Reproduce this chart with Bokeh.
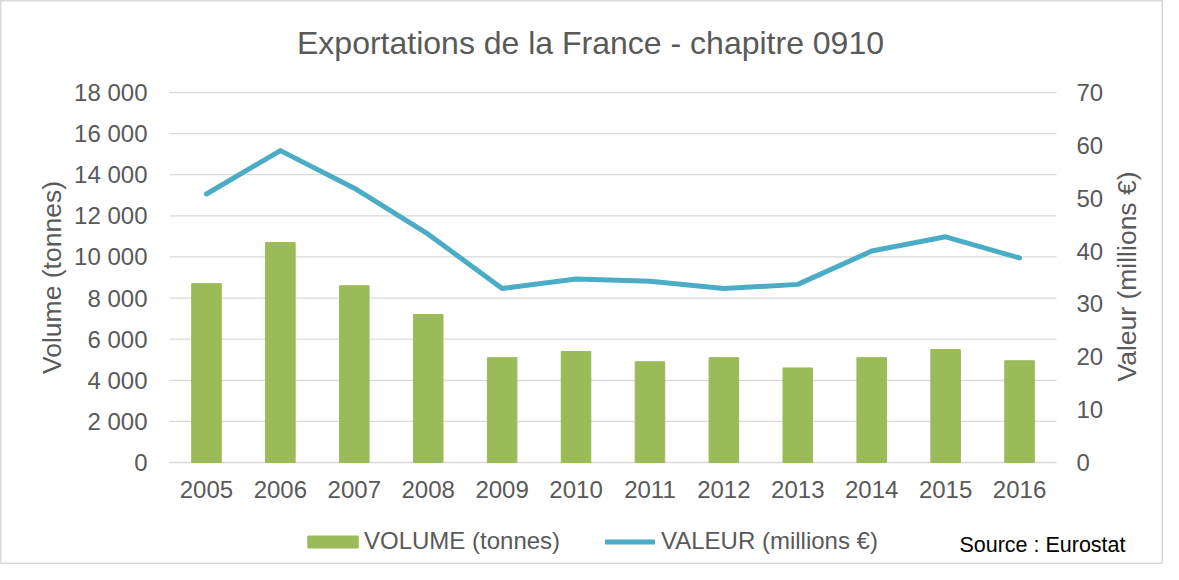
import math
from bokeh.plotting import figure
from bokeh.models import (ColumnDataSource, Range1d, LinearAxis, FixedTicker,
                          Legend, LegendItem, Label)
from bokeh.embed import file_html
from bokeh.resources import INLINE

# ---- data ----
years = ["2005", "2006", "2007", "2008", "2009", "2010",
         "2011", "2012", "2013", "2014", "2015", "2016"]
volume = [8700, 10700, 8600, 7200, 5100, 5400, 4900, 5100, 4600, 5100, 5500, 4950]
valeur = [50.8, 59.0, 51.9, 43.2, 32.9, 34.7, 34.3, 32.9, 33.7, 40.0, 42.7, 38.7]
vol_ticks = [0, 2000, 4000, 6000, 8000, 10000, 12000, 14000, 16000, 18000]
vol_tick_labels = ["0", "2 000", "4 000", "6 000", "8 000", "10 000",
                   "12 000", "14 000", "16 000", "18 000"]
val_ticks = [0, 10, 20, 30, 40, 50, 60, 70]

FONT = "Liberation Sans"
TXT = "#595959"
GRID = "#D9D9D9"
GREEN = "#9BBB59"
BLUE = "#4BACC6"

# ---- layout (pixels) ----
W, H = 1163, 564
PX_L, PX_R = 169, 1056      # plot band left / right
PX_T, PX_B = 92, 462        # plot band top / bottom
n = len(years)
vmax, rmax = vol_ticks[-1], val_ticks[-1]
cat_px = (PX_R - PX_L) / n


def xd(px):                  # pixel -> x data
    return (px - PX_L) / cat_px - 0.5


def yd(py):                  # pixel -> y data (left scale)
    return (PX_B - py) / (PX_B - PX_T) * vmax


idx = list(range(n))
src = ColumnDataSource(dict(i=idx, volume=volume, valeur=valeur))

p = figure(x_range=Range1d(xd(0), xd(W)), y_range=Range1d(yd(H), yd(0)),
           width=W, height=H, output_backend="svg", toolbar_location=None,
           title=None, min_border=0, min_border_left=0, min_border_right=0,
           min_border_top=0, min_border_bottom=0)
p.extra_y_ranges = {"val": Range1d(yd(H) * rmax / vmax, yd(0) * rmax / vmax)}
p.outline_line_color = GRID
p.outline_line_width = 2
p.background_fill_color = "white"
p.border_fill_color = "white"
p.xgrid.visible = False
p.ygrid.visible = False

# gridlines over the plot band
p.segment(x0=-0.5, x1=n - 0.5, y0=vol_ticks, y1=vol_ticks,
          line_color=GRID, line_width=1.3)

bars = p.vbar(x="i", top="volume", width=0.4, source=src,
              fill_color=GREEN, line_color=GREEN)
line = p.line(x="i", y="valeur", source=src, y_range_name="val",
              line_color=BLUE, line_width=5, line_cap="round", line_join="round")

# x axis fixed at y = 0
xa = p.xaxis[0]
xa.fixed_location = 0
xa.ticker = FixedTicker(ticks=idx)
xa.major_label_overrides = {i: y for i, y in zip(idx, years)}
xa.axis_line_color = None
xa.major_tick_line_color = None
xa.minor_tick_line_color = None
xa.major_label_standoff = 12
xa.major_label_text_font = FONT
xa.major_label_text_font_size = "24px"
xa.major_label_text_color = TXT

# left axis
ya = p.yaxis[0]
ya.fixed_location = -0.5
ya.ticker = FixedTicker(ticks=vol_ticks)
ya.major_label_overrides = {t: l for t, l in zip(vol_ticks, vol_tick_labels)}

# right axis
ra = LinearAxis(y_range_name="val", ticker=FixedTicker(ticks=val_ticks),
                fixed_location=n - 0.5)
p.add_layout(ra, "right")

for ax, st in ((ya, 16), (ra, 14)):
    ax.axis_line_color = None
    ax.major_tick_line_color = None
    ax.minor_tick_line_color = None
    ax.major_label_standoff = st
    ax.major_label_text_font = FONT
    ax.major_label_text_font_size = "24px"
    ax.major_label_text_color = TXT


# texts
def label(px, py, text, size, color=TXT, align="center", baseline="alphabetic", angle=0):
    p.add_layout(Label(x=xd(px), y=yd(py), text=text, text_font=FONT,
                       text_font_size=size, text_color=color, text_align=align,
                       text_baseline=baseline, angle=angle))


label(590, 42, "Exportations de la France - chapitre 0910", "32px")
label(51, 277, "Volume (tonnes)", "26.5px", angle=math.pi / 2)
label(1126, 276, "Valeur (millions €)", "26.5px", angle=math.pi / 2)
label(1125, 544, "Source : Eurostat", "21.5px", color="black", align="right")

# legends
common = dict(orientation="horizontal", border_line_color=None,
              background_fill_alpha=0, label_text_font=FONT,
              label_text_font_size="24px", label_text_color=TXT,
              padding=0, margin=0)
leg1 = Legend(items=[LegendItem(label="VOLUME (tonnes)", renderers=[bars])],
              location=(301, 9), glyph_width=63, glyph_height=15,
              label_standoff=0, **common)
leg2 = Legend(items=[LegendItem(label="VALEUR (millions €)", renderers=[line])],
              location=(605, 9), glyph_width=50, glyph_height=15,
              label_standoff=6, **common)
p.add_layout(leg1)
p.add_layout(leg2)

open("out.html", "w").write(file_html(p, INLINE))
